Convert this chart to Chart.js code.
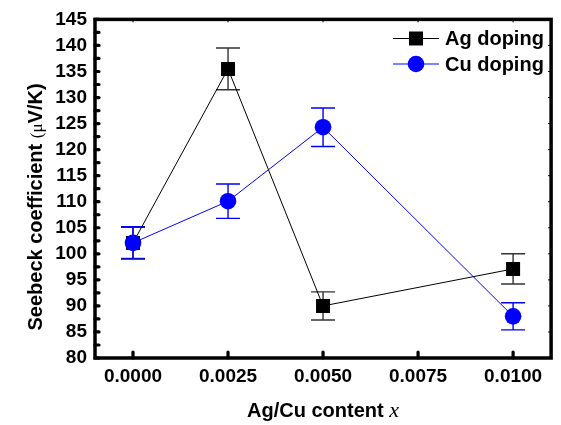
<!DOCTYPE html>
<html><head><meta charset="utf-8">
<script src="https://cdn.jsdelivr.net/npm/chart.js@4"></script>
<style>html,body{margin:0;padding:0;background:#fff}#wrap{width:561px;height:425px}</style>
</head><body><div id="wrap"><canvas id="c" width="561" height="425"></canvas></div>
<script>
const xValues = [0.0000, 0.0025, 0.0050, 0.0100];
const agValues = [102.1, 135.5, 90.0, 97.1];
const agErrors = [3.0, 4.0, 2.7, 2.9];
const cuValues = [102.1, 110.1, 124.3, 88.0];
const cuErrors = [3.1, 3.3, 3.7, 2.6];
const xTicks = [0.0000, 0.0025, 0.0050, 0.0075, 0.0100];
const yTicks = [80, 85, 90, 95, 100, 105, 110, 115, 120, 125, 130, 135, 140, 145];
const seriesNames = ['Ag doping', 'Cu doping'];
const xTitle = 'Ag/Cu content ';
const xTitleVar = 'x';
const yTitleParts = ['Seebeck coefficient ', '(\u03bc', 'V/K)'];

const SANS = '"Liberation Sans", Arial, sans-serif';
const SERIF = '"Liberation Serif", "Times New Roman", serif';

function pts(xs, ys) { return xs.map((x, i) => ({ x: x, y: ys[i] })); }

const errorBars = {
  id: 'errorBars',
  beforeDatasetsDraw(chart) {
    const ctx = chart.ctx, xs = chart.scales.x, ys = chart.scales.y;
    chart.data.datasets.forEach((ds) => {
      const errs = ds.errors; if (!errs) return;
      ctx.save();
      ctx.strokeStyle = ds.errorColor; ctx.lineWidth = 1.4;
      ds.data.forEach((p, i) => {
        const px = xs.getPixelForValue(p.x);
        const y1 = ys.getPixelForValue(p.y + errs[i]);
        const y2 = ys.getPixelForValue(p.y - errs[i]);
        ctx.beginPath();
        ctx.moveTo(px, y1); ctx.lineTo(px, y2);
        ctx.moveTo(px - 12, y1); ctx.lineTo(px + 12, y1);
        ctx.moveTo(px - 12, y2); ctx.lineTo(px + 12, y2);
        ctx.stroke();
      });
      ctx.restore();
    });
  }
};

const frame = {
  id: 'frame',
  afterDatasetsDraw(chart) {
    const ctx = chart.ctx, a = chart.chartArea, xs = chart.scales.x, ys = chart.scales.y;
    ctx.save();
    ctx.strokeStyle = '#000';
    ctx.lineCap = 'round';
    ctx.lineWidth = 3.2;
    ctx.beginPath();
    for (let v = 80; v <= 145; v += 2.5) {
      const py = ys.getPixelForValue(v);
      ctx.moveTo(a.left, py); ctx.lineTo(a.left + 4, py);
    }
    xTicks.forEach(v => {
      const px = xs.getPixelForValue(v);
      ctx.moveTo(px, a.bottom); ctx.lineTo(px, a.bottom - 6);
    });
    ctx.stroke();
    ctx.lineCap = 'butt';
    ctx.lineWidth = 1;
    ctx.beginPath();
    xTicks.forEach(v => {
      const px = xs.getPixelForValue(v);
      ctx.moveTo(px, a.top); ctx.lineTo(px, a.top + 3);
    });
    for (let v = 80; v <= 145; v += 5) {
      const py = ys.getPixelForValue(v);
      ctx.moveTo(a.right, py); ctx.lineTo(a.right - 3, py);
    }
    ctx.stroke();
    ctx.lineWidth = 3.5;
    ctx.lineCap = 'square';
    ctx.strokeRect(a.left, a.top, a.right - a.left, a.bottom - a.top);
    ctx.restore();
  },
  afterDraw(chart) {
    const ctx = chart.ctx, a = chart.chartArea;
    ctx.save();
    ctx.fillStyle = '#000';
    ctx.textBaseline = 'alphabetic';
    ctx.font = 'bold 20px ' + SANS;
    const w1 = ctx.measureText(xTitle).width;
    ctx.font = 'italic 22px ' + SERIF;
    const w2 = ctx.measureText(xTitleVar).width;
    let x0 = (a.left + a.right) / 2 - (w1 + w2) / 2;
    ctx.font = 'bold 20px ' + SANS;
    ctx.fillText(xTitle, x0, 417);
    ctx.font = 'italic 22px ' + SERIF;
    ctx.fillText(xTitleVar, x0 + w1, 417);
    const fonts = ['bold 20px ' + SANS, '17px ' + SERIF, 'bold 20px ' + SANS];
    let widths = yTitleParts.map((t, i) => { ctx.font = fonts[i]; return ctx.measureText(t).width; });
    const total = widths.reduce((s, w) => s + w, 0);
    ctx.translate(42, 207);
    ctx.rotate(-Math.PI / 2);
    let cx = -total / 2;
    yTitleParts.forEach((t, i) => { ctx.font = fonts[i]; ctx.fillText(t, cx, 0); cx += widths[i]; });
    ctx.restore();
    ctx.save();
    const items = [
      { y: 38.5, color: '#000', style: 'rect', name: seriesNames[0] },
      { y: 64, color: '#0000ff', style: 'circle', name: seriesNames[1] }
    ];
    items.forEach(it => {
      ctx.strokeStyle = it.color; ctx.lineWidth = 1;
      ctx.beginPath(); ctx.moveTo(393, it.y); ctx.lineTo(439, it.y); ctx.stroke();
      ctx.fillStyle = it.color;
      if (it.style === 'rect') ctx.fillRect(416 - 7, it.y - 7, 14, 14);
      else { ctx.beginPath(); ctx.arc(416, it.y, 8.3, 0, Math.PI * 2); ctx.fill(); }
      ctx.fillStyle = '#000';
      ctx.font = 'bold 20px ' + SANS;
      ctx.textBaseline = 'middle';
      ctx.fillText(it.name, 445, it.y + 1);
    });
    ctx.restore();
  }
};

new Chart(document.getElementById('c'), {
  type: 'scatter',
  data: {
    datasets: [
      {
        label: seriesNames[0], data: pts(xValues, agValues), errors: agErrors, errorColor: '#333333',
        showLine: true, borderColor: '#000', backgroundColor: '#000', borderWidth: 1,
        pointStyle: 'rect', pointRadius: 9.9, pointHoverRadius: 9.9, pointBorderWidth: 0, order: 1
      },
      {
        label: seriesNames[1], data: pts(xValues, cuValues), errors: cuErrors, errorColor: '#0000ff',
        showLine: true, borderColor: '#0000ff', backgroundColor: '#0000ff', borderWidth: 1,
        pointStyle: 'circle', pointRadius: 8.3, pointHoverRadius: 8.3, pointBorderWidth: 0, order: 0
      }
    ]
  },
  options: {
    responsive: false, animation: false, devicePixelRatio: 1,
    layout: { padding: { top: 15.5, right: 6, left: 0, bottom: 0 } },
    plugins: { legend: { display: false }, tooltip: { enabled: false } },
    scales: {
      x: {
        type: 'linear', min: -0.001, max: 0.011,
        afterBuildTicks: s => { s.ticks = xTicks.map(v => ({ value: v })); },
        afterFit: s => { s.height = 67; },
        grid: { display: false, drawTicks: false }, border: { display: false },
        ticks: { callback: v => Number(v).toFixed(4), font: { family: SANS, size: 19, weight: 'bold' }, color: '#000', padding: 7, maxRotation: 0, autoSkip: false }
      },
      y: {
        min: 80, max: 145,
        afterBuildTicks: s => { s.ticks = yTicks.map(v => ({ value: v })); },
        afterFit: s => { s.width = 95; },
        grid: { display: false, drawTicks: false }, border: { display: false },
        ticks: { callback: v => String(v), font: { family: SANS, size: 19, weight: 'bold' }, color: '#000', padding: 8, autoSkip: false }
      }
    }
  },
  plugins: [errorBars, frame]
});
</script></body></html>
